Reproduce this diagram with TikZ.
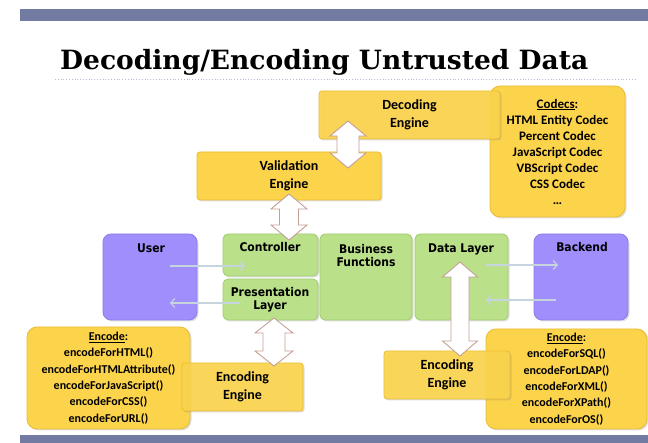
\documentclass[tikz,border=0pt]{standalone}
\usepackage{fontspec}
\setmainfont{Carlito}
\newfontfamily\labfont{DejaVu Sans Condensed}
\newfontfamily\titlefont{DejaVu Serif}
\usetikzlibrary{calc,shadows,arrows.meta}
\definecolor{barcol}{RGB}{114,124,163}
\definecolor{yfill}{RGB}{252,212,76}
\definecolor{ydraw}{RGB}{232,188,48}
\definecolor{gfill}{RGB}{186,224,138}
\definecolor{gdraw}{RGB}{160,205,112}
\definecolor{pfill}{RGB}{160,142,252}
\definecolor{pdraw}{RGB}{140,124,236}
\definecolor{arrline}{RGB}{196,160,150}
\definecolor{harr}{RGB}{198,212,222}
\definecolor{dotcol}{RGB}{180,190,212}
\tikzset{
  box/.style={inner sep=0pt, outer sep=0pt, line width=0.8pt},
  shad/.style={drop shadow={opacity=0.25,shadow xshift=1.5pt,shadow yshift=-1.5pt}},
  ybox/.style={box, shad, fill=yfill, draw=ydraw, rounded corners=3pt},
  listbox/.style={box, shad, fill=yfill, draw=ydraw, rounded corners=10pt},
  gbox/.style={box, shad, fill=gfill, draw=gdraw, rounded corners=5pt},
  pbox/.style={box, shad, fill=pfill, draw=pdraw, rounded corners=8pt},
  engtxt/.style={align=center, font=\bfseries\fontsize{14}{18.5}\selectfont},
  listtxt/.style={align=center, font=\bfseries\fontsize{12}{16.4}\selectfont},
  labtxt/.style={align=center, inner sep=0pt, font=\labfont\bfseries\fontsize{12}{14}\selectfont},
  harrow/.style={draw=harr, line width=2.6pt, -{Straight Barb[length=4pt,width=9pt,line width=1.2pt]}},
  dblar/.style={draw=arrline, fill=white, line width=0.9pt, line join=miter},
}
% double block arrow between two coordinates: #1 top, #2 bottom, #3 head half width, #4 shaft half width
\newcommand{\bigDA}[4]{%
  \draw[dblar] let \p1=(#1), \p2=(#2) in
    (\x1,\y1) -- (\x1+#3,\y1-15pt) -- (\x1+#4,\y1-15pt) -- (\x1+#4,\y2+15pt)
    -- (\x1+#3,\y2+15pt) -- (\x1,\y2) -- (\x1-#3,\y2+15pt) -- (\x1-#4,\y2+15pt)
    -- (\x1-#4,\y1-15pt) -- (\x1-#3,\y1-15pt) -- cycle;}
\begin{document}
\begin{tikzpicture}[x=1pt,y=-1pt]
\useasboundingbox (0,0) rectangle (648,443);
\fill[white] (0,0) rectangle (648,443);
% bars
\fill[barcol] (20,9) rectangle (648,21);
\fill[barcol] (20,435) rectangle (648,443);
% title
\node[anchor=base west, inner sep=0pt] (title) at (60,70)
  {\resizebox{528pt}{!}{\titlefont\bfseries Decoding/Encoding Untrusted Data}};
\draw[dotcol, dotted, line width=0.8pt] (55,79) -- (635,79);

% top yellow boxes
\node[listbox, minimum width=135pt, minimum height=131pt, listtxt, font=\bfseries\fontsize{13}{16}\selectfont] (codecs) at (557.5,151.5)
  {\underline{Codecs}:\\HTML Entity Codec\\Percent Codec\\JavaScript Codec\\VBScript Codec\\CSS Codec\\\dots};
\node[ybox, fill opacity=0.92, text opacity=1, minimum width=181pt, minimum height=48pt, engtxt] (dec) at (409.5,115)
  {Decoding\\Engine};
\node[ybox, minimum width=184pt, minimum height=48pt, engtxt] (val) at (289,176)
  {Validation\\Engine};

% middle row
\node[pbox, minimum width=94pt, minimum height=86pt] (user) at (150,277) {};
\node[gbox, minimum width=95pt, minimum height=42pt] (ctrl) at (270.5,255) {};
\node[gbox, minimum width=95pt, minimum height=41pt] (pres) at (270.5,299.5) {};
\node[gbox, minimum width=92pt, minimum height=86pt] (bus) at (366,277) {};
\node[gbox, minimum width=93pt, minimum height=86pt] (data) at (461.5,277) {};
\node[pbox, minimum width=94pt, minimum height=86pt] (back) at (581,277) {};
\node[labtxt] (userT) at (151,248) {User};
\node[labtxt] (ctrlT) at (270,247.5) {Controller};
\node[labtxt] (presT) at (270,300) {Presentation\\[-1pt]Layer};
\node[labtxt] (busT) at (366,256) {Business\\[-1pt]Functions};
\node[labtxt] (dataT) at (461,249.5) {Data Layer};
\node[labtxt] (backT) at (582,247.5) {Backend};

% bottom yellow boxes
\node[listbox, minimum width=163pt, minimum height=102pt, listtxt] (encL) at (108.5,378)
  {\underline{Encode}:\\encodeForHTML()\\encodeForHTMLAttribute()\\encodeForJavaScript()\\encodeForCSS()\\encodeForURL()};
\node[listbox, minimum width=161pt, minimum height=100pt, listtxt] (encR) at (566.5,379)
  {\underline{Encode}:\\encodeForSQL()\\encodeForLDAP()\\encodeForXML()\\encodeForXPath()\\encodeForOS()};
\node[ybox, fill opacity=0.9, text opacity=1, minimum width=121pt, minimum height=48pt, engtxt] (engL) at (242.5,387)
  {Encoding\\Engine};
\node[ybox, fill opacity=0.9, text opacity=1, minimum width=126pt, minimum height=48pt, engtxt] (engR) at (447,375)
  {Encoding\\Engine};

% horizontal flow arrows
\draw[harrow] ($(user.east)+(-27,-11)$) -- ($(ctrl.west)+(22,11)$);
\draw[harrow] ($(pres.west)+(17,3.5)$) -- ($(user.east)+(-27,26)$);
\draw[harrow] ($(data.east)+(-22,-12)$) -- ($(back.west)+(24,-12)$);
\draw[harrow] ($(back.west)+(22,23)$) -- ($(data.east)+(-22,23)$);

% double block arrows
\coordinate (dvT) at ($(dec.south)+(-61.5,-18)$);
\coordinate (dvB) at ($(val.north)+(59,16)$);
\coordinate (vcT) at ($(val.south)+(0,-6)$);
\coordinate (vcB) at ($(ctrl.north)+(18.5,6)$);
\coordinate (peT) at ($(pres.south)+(3.5,-2)$);
\coordinate (peB) at ($(engL.north)+(31.5,3)$);
\coordinate (drT) at ($(data.north)+(-1.5,28)$);
\coordinate (drB) at ($(engR.north)+(13,5)$);
\bigDA{dvT}{dvB}{18pt}{11pt}
\bigDA{vcT}{vcB}{18pt}{9.5pt}
\bigDA{peT}{peB}{19pt}{11pt}
\bigDA{drT}{drB}{17.5pt}{9pt}
\end{tikzpicture}
\end{document}
